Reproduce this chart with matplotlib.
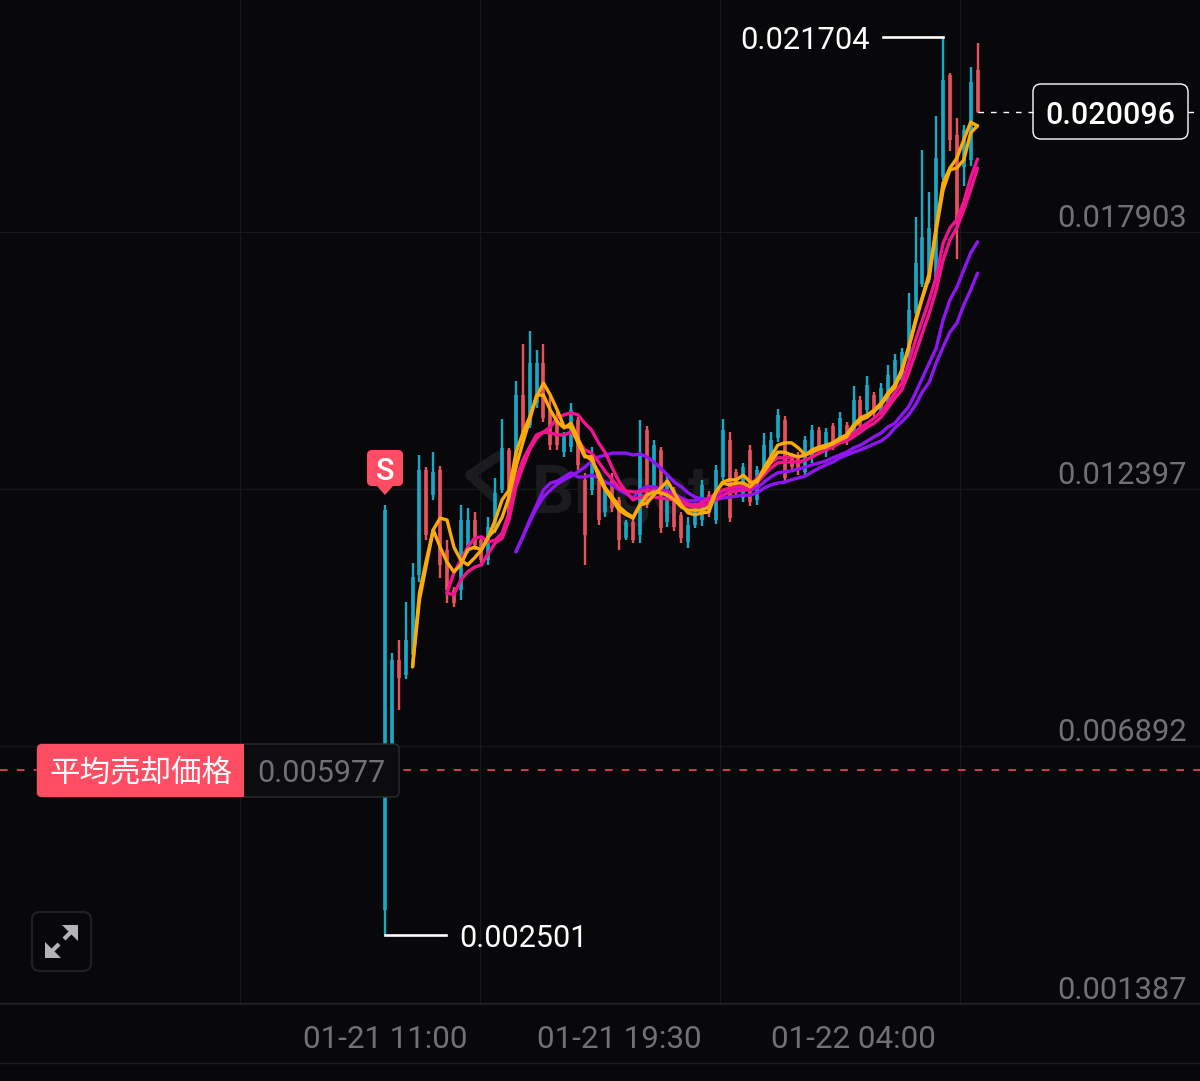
import matplotlib
matplotlib.use("Agg")
import matplotlib.pyplot as plt
import matplotlib.transforms as mtrans
from matplotlib.patches import FancyBboxPatch, Polygon, Rectangle
import numpy as np

# 15 minute candles, first one at 01-21 11:00
high = [0.01170, 0.00853, 0.00881, 0.00963, 0.01046, 0.01277, 0.01251, 0.01283, 0.01253, 0.01095,
        0.00995, 0.01170, 0.01164, 0.01155, 0.01102, 0.01144, 0.01228, 0.01354, 0.01292, 0.01435,
        0.01514, 0.01542, 0.01502, 0.01514, 0.01405, 0.01369, 0.01326, 0.01388, 0.01358, 0.01239,
        0.01294, 0.01230, 0.01209, 0.01239, 0.01187, 0.01138, 0.01142, 0.01352, 0.01339, 0.01309,
        0.01294, 0.01232, 0.01209, 0.01155, 0.01144, 0.01174, 0.01224, 0.01200, 0.01256, 0.01354,
        0.01326, 0.01247, 0.01260, 0.01298, 0.01253, 0.01324, 0.01326, 0.01375, 0.01360, 0.01281,
        0.01283, 0.01318, 0.01341, 0.01337, 0.01335, 0.01345, 0.01369, 0.01348, 0.01425, 0.01403,
        0.01446, 0.01412, 0.01431, 0.01470, 0.01493, 0.01506, 0.01624, 0.01786, 0.01929, 0.01840,
        0.02002, 0.021704, 0.02094, 0.01998, 0.01983, 0.02107, 0.02158]
low = [0.002501, 0.00593, 0.00732, 0.00798, 0.00832, 0.01005, 0.01095, 0.01181, 0.01014, 0.00960,
       0.00952, 0.00967, 0.01067, 0.01074, 0.01046, 0.01042, 0.01110, 0.01196, 0.01138, 0.01241,
       0.01316, 0.01335, 0.01378, 0.01348, 0.01288, 0.01288, 0.01273, 0.01283, 0.01245, 0.01042,
       0.01191, 0.01127, 0.01144, 0.01155, 0.01074, 0.01095, 0.01089, 0.01089, 0.01164, 0.01196,
       0.01110, 0.01123, 0.01114, 0.01089, 0.01078, 0.01121, 0.01125, 0.01144, 0.01129, 0.01224,
       0.01134, 0.01191, 0.01176, 0.01168, 0.01170, 0.01239, 0.01266, 0.01305, 0.01219, 0.01245,
       0.01234, 0.01230, 0.01260, 0.01277, 0.01273, 0.01288, 0.01303, 0.01298, 0.01316, 0.01330,
       0.01367, 0.01358, 0.01363, 0.01378, 0.01416, 0.01431, 0.01480, 0.01572, 0.01636, 0.01645,
       0.01651, 0.01865, 0.01927, 0.01696, 0.01852, 0.01895, 0.02008]
open_ = [0.00304, 0.00603, 0.00839, 0.00806, 0.00849, 0.01020, 0.01245, 0.01191, 0.01245, 0.01074,
         0.00988, 0.00988, 0.01078, 0.01138, 0.01095, 0.01052, 0.01121, 0.01202, 0.01288, 0.01249,
         0.01405, 0.01341, 0.01388, 0.01474, 0.01373, 0.01352, 0.01283, 0.01294, 0.01352, 0.01224,
         0.01202, 0.01224, 0.01155, 0.01224, 0.01181, 0.01099, 0.01134, 0.01106, 0.01330, 0.01206,
         0.01288, 0.01134, 0.01202, 0.01149, 0.01091, 0.01127, 0.01138, 0.01191, 0.01138, 0.01230,
         0.01309, 0.01241, 0.01185, 0.01288, 0.01181, 0.01245, 0.01273, 0.01313, 0.01352, 0.01277,
         0.01277, 0.01241, 0.01271, 0.01330, 0.01283, 0.01339, 0.01309, 0.01341, 0.01324, 0.01395,
         0.01373, 0.01405, 0.01369, 0.01386, 0.01422, 0.01437, 0.01487, 0.01581, 0.01643, 0.01651,
         0.01658, 0.01872, 0.02090, 0.01961, 0.01893, 0.01908, 0.02100]
close = [0.01159, 0.00839, 0.00800, 0.00881, 0.01016, 0.01245, 0.01106, 0.01241, 0.01042, 0.00988,
         0.00960, 0.01138, 0.01138, 0.01084, 0.01052, 0.01123, 0.01196, 0.01292, 0.01149, 0.01405,
         0.01326, 0.01474, 0.01474, 0.01356, 0.01298, 0.01298, 0.01320, 0.01373, 0.01256, 0.01106,
         0.01277, 0.01138, 0.01202, 0.01164, 0.01095, 0.01134, 0.01095, 0.01277, 0.01170, 0.01298,
         0.01121, 0.01224, 0.01123, 0.01099, 0.01127, 0.01159, 0.01213, 0.01155, 0.01245, 0.01330,
         0.01142, 0.01202, 0.01251, 0.01176, 0.01245, 0.01298, 0.01309, 0.01363, 0.01228, 0.01251,
         0.01245, 0.01309, 0.01330, 0.01288, 0.01326, 0.01296, 0.01356, 0.01309, 0.01395, 0.01339,
         0.01427, 0.01367, 0.01420, 0.01448, 0.01480, 0.01497, 0.01587, 0.01688, 0.01743, 0.01763,
         0.01912, 0.02079, 0.01951, 0.01773, 0.01972, 0.02075, 0.020096]

# moving averages, each starts later than the candles
orange_a = [0.00824, 0.00982, 0.01052, 0.01117, 0.01142, 0.01138, 0.01080, 0.01052, 0.01042, 0.01057,
            0.01074, 0.01102, 0.01138, 0.01181, 0.01202, 0.01281, 0.01324, 0.01358, 0.01401, 0.01431,
            0.01405, 0.01373, 0.01337, 0.01337, 0.01303, 0.01273, 0.01273, 0.01230, 0.01202, 0.01181,
            0.01159, 0.01149, 0.01142, 0.01170, 0.01174, 0.01191, 0.01206, 0.01221, 0.01196, 0.01170,
            0.01153, 0.01149, 0.01153, 0.01155, 0.01196, 0.01219, 0.01224, 0.01224, 0.01234, 0.01219,
            0.01219, 0.01249, 0.01273, 0.01298, 0.01303, 0.01303, 0.01292, 0.01277, 0.01288, 0.01294,
            0.01298, 0.01303, 0.01313, 0.01320, 0.01341, 0.01356, 0.01363, 0.01373, 0.01388, 0.01410,
            0.01427, 0.01459, 0.01508, 0.01566, 0.01615, 0.01666, 0.01765, 0.01859, 0.01891, 0.01912,
            0.01951, 0.01989, 0.01981]
orange_b = [0.00824, 0.00967, 0.01042, 0.01117, 0.01080, 0.01048, 0.01027, 0.01042, 0.01074, 0.01080,
            0.01074, 0.01102, 0.01117, 0.01144, 0.01187, 0.01251, 0.01303, 0.01352, 0.01405, 0.01405,
            0.01373, 0.01348, 0.01335, 0.01345, 0.01313, 0.01277, 0.01266, 0.01239, 0.01206, 0.01187,
            0.01166, 0.01153, 0.01144, 0.01170, 0.01191, 0.01198, 0.01196, 0.01191, 0.01181, 0.01166,
            0.01159, 0.01159, 0.01159, 0.01166, 0.01198, 0.01217, 0.01213, 0.01217, 0.01217, 0.01209,
            0.01224, 0.01241, 0.01262, 0.01283, 0.01283, 0.01277, 0.01273, 0.01277, 0.01283, 0.01290,
            0.01294, 0.01301, 0.01309, 0.01316, 0.01337, 0.01352, 0.01358, 0.01371, 0.01384, 0.01405,
            0.01422, 0.01455, 0.01506, 0.01561, 0.01613, 0.01658, 0.01758, 0.01844, 0.01887, 0.01891,
            0.01908, 0.01966, 0.01981]
pink_a = [0.00982, 0.00978, 0.01010, 0.01027, 0.01037, 0.01042, 0.01067, 0.01089, 0.01099, 0.01138,
          0.01209, 0.01251, 0.01288, 0.01313, 0.01326, 0.01324, 0.01320, 0.01320, 0.01326, 0.01309,
          0.01288, 0.01281, 0.01262, 0.01241, 0.01224, 0.01206, 0.01200, 0.01198, 0.01198, 0.01202,
          0.01202, 0.01200, 0.01196, 0.01187, 0.01181, 0.01172, 0.01170, 0.01174, 0.01185, 0.01194,
          0.01202, 0.01206, 0.01209, 0.01209, 0.01211, 0.01228, 0.01245, 0.01260, 0.01271, 0.01271,
          0.01273, 0.01273, 0.01277, 0.01283, 0.01290, 0.01294, 0.01298, 0.01307, 0.01309, 0.01324,
          0.01335, 0.01345, 0.01356, 0.01369, 0.01388, 0.01410, 0.01431, 0.01474, 0.01523, 0.01566,
          0.01609, 0.01658, 0.01730, 0.01763, 0.01780, 0.01818, 0.01870, 0.01910]
pink_b = [0.00982, 0.01025, 0.01052, 0.01080, 0.01099, 0.01102, 0.01091, 0.01095, 0.01110, 0.01153,
          0.01224, 0.01266, 0.01294, 0.01320, 0.01326, 0.01337, 0.01356, 0.01363, 0.01367, 0.01363,
          0.01345, 0.01330, 0.01303, 0.01281, 0.01249, 0.01219, 0.01198, 0.01181, 0.01187, 0.01191,
          0.01187, 0.01185, 0.01183, 0.01181, 0.01174, 0.01168, 0.01166, 0.01168, 0.01174, 0.01181,
          0.01191, 0.01198, 0.01200, 0.01202, 0.01204, 0.01217, 0.01234, 0.01249, 0.01260, 0.01262,
          0.01262, 0.01262, 0.01266, 0.01273, 0.01281, 0.01288, 0.01294, 0.01303, 0.01307, 0.01316,
          0.01326, 0.01337, 0.01345, 0.01358, 0.01378, 0.01399, 0.01416, 0.01452, 0.01495, 0.01538,
          0.01581, 0.01630, 0.01694, 0.01737, 0.01763, 0.01801, 0.01844, 0.01891]
purple_a = [0.01070, 0.01102, 0.01138, 0.01170, 0.01202, 0.01217, 0.01221, 0.01230, 0.01239, 0.01230,
            0.01230, 0.01234, 0.01228, 0.01219, 0.01213, 0.01202, 0.01194, 0.01185, 0.01202, 0.01209,
            0.01209, 0.01204, 0.01200, 0.01194, 0.01185, 0.01179, 0.01179, 0.01183, 0.01183, 0.01187,
            0.01200, 0.01204, 0.01204, 0.01202, 0.01202, 0.01206, 0.01219, 0.01230, 0.01239, 0.01241,
            0.01243, 0.01247, 0.01251, 0.01256, 0.01260, 0.01264, 0.01271, 0.01277, 0.01283, 0.01292,
            0.01298, 0.01307, 0.01316, 0.01324, 0.01337, 0.01345, 0.01363, 0.01380, 0.01410, 0.01442,
            0.01474, 0.01506, 0.01566, 0.01609, 0.01636, 0.01673, 0.01709, 0.01733]
purple_b = [0.01070, 0.01102, 0.01134, 0.01164, 0.01187, 0.01202, 0.01215, 0.01224, 0.01232, 0.01241,
            0.01251, 0.01264, 0.01273, 0.01277, 0.01281, 0.01281, 0.01281, 0.01277, 0.01279, 0.01273,
            0.01262, 0.01249, 0.01234, 0.01219, 0.01209, 0.01196, 0.01187, 0.01183, 0.01181, 0.01181,
            0.01185, 0.01187, 0.01189, 0.01191, 0.01191, 0.01196, 0.01206, 0.01213, 0.01217, 0.01219,
            0.01224, 0.01228, 0.01232, 0.01241, 0.01249, 0.01256, 0.01262, 0.01271, 0.01277, 0.01283,
            0.01288, 0.01294, 0.01301, 0.01307, 0.01318, 0.01335, 0.01348, 0.01363, 0.01384, 0.01412,
            0.01433, 0.01474, 0.01508, 0.01540, 0.01559, 0.01598, 0.01630, 0.01666]

price_ticks = [0.017903, 0.012397, 0.006892, 0.001387]
date_labels = ["01-21 11:00", "01-21 19:30", "01-22 04:00"]
date_candles = [0, 34, 68]
avg_sell = 0.005977
last_price = 0.020096

BG = "#08080a"
UP = "#17a9c6"
DOWN = "#e8525f"
RED = "#ff4d63"
GRID = "#17181b"
GREY = "#6f7176"

plt.rcParams["font.family"] = ["Roboto", "Noto Sans CJK JP", "DejaVu Sans"]

fig = plt.figure(figsize=(12, 10.81), dpi=100, facecolor=BG)
ax = fig.add_axes([0, 0, 1, 1], facecolor=BG)
ax.set_xlim(-385 / 6.89, (1200 - 385) / 6.89)
ax.set_ylim(0.022502 - 1081 * 2.139e-5, 0.022502)
ax.axis("off")

# overlay in screen pixels for the app chrome
ov = fig.add_axes([0, 0, 1, 1], facecolor="none")
ov.set_xlim(0, 1200)
ov.set_ylim(1081, 0)
ov.axis("off")
px_price = mtrans.blended_transform_factory(ov.transData, ax.transData)
candle_px = mtrans.blended_transform_factory(ax.transData, ov.transData)
tag_shift = px_price + mtrans.Affine2D().translate(0, 2.5)

# grid sits a bit below the price it is labelled with
grid_shift = 0.000353
for p in price_ticks:
    ax.axhline(p - grid_shift, color=GRID, lw=0.9, zorder=1)
for x in [240, 480, 720, 960]:
    ax.plot([x, x], [0, 1003], color=GRID, lw=0.9, zorder=1,
            transform=ov.transData)
ax.plot([0, 1200], [1003, 1003], color="#222327", lw=1, transform=ov.transData, zorder=1)
ax.plot([0, 1200], [1063, 1063], color="#1c1d20", lw=1, transform=ov.transData, zorder=1)

# watermark
ax.text(532, 495, "Bitget", color="#1b1b1e", fontsize=48, fontweight="bold",
        va="center", ha="left", transform=ov.transData, zorder=1.5)
ax.plot([497, 470, 497], [457, 475, 500], color="#1b1b1e", lw=7, transform=ov.transData, zorder=1.5)

# candles
idx = np.arange(len(high))
colors = [UP if c >= o else DOWN for o, c in zip(open_, close)]
ax.vlines(idx, low, high, colors=colors, lw=1.7, zorder=2)
ax.vlines(idx, open_, close, colors=colors, lw=2.6, zorder=2)


def ma(values, color):
    x = np.arange(len(high) - len(values), len(high))
    ax.plot(x, values, color=color, lw=2.4, solid_joinstyle="round",
            solid_capstyle="round", zorder=3)


ma(purple_a, "#8f15f2")
ma(purple_b, "#8f15f2")
ma(pink_a, "#f0148e")
ma(pink_b, "#f0148e")
ma(orange_a, "#fbaa0c")
ma(orange_b, "#fbaa0c")

# high / low markers
i_hi = int(np.argmax(high))
i_lo = int(np.argmin(low))
ov.plot([883, 943], [high[i_hi]] * 2, color="white", lw=1.9, transform=px_price)
ov.text(870, high[i_hi], f"{high[i_hi]:.6f}", color="white", fontsize=22.2, ha="right",
        va="center_baseline", transform=px_price)
ov.plot([385, 446], [low[i_lo]] * 2, color="white", lw=1.9, transform=px_price)
ov.text(459, low[i_lo], f"{low[i_lo]:.6f}", color="white", fontsize=22, ha="left",
        va="center_baseline", transform=px_price)

# price axis
for p in price_ticks:
    ov.text(1187, p, f"{p:.6f}", color=GREY, fontsize=22.2, ha="right", va="center_baseline",
            transform=px_price)
for c, lab in zip(date_candles, date_labels):
    ov.text(c, 1036, lab, color=GREY, fontsize=22.6, ha="center", va="center_baseline",
            transform=candle_px)

# last price tag
ov.plot([978, 1033], [last_price] * 2, color="white", lw=1, ls=(0, (4, 5)), transform=px_price)
ov.plot([1188, 1200], [last_price] * 2, color="white", lw=1, ls=(0, (4, 5)), transform=px_price)
ov.add_patch(FancyBboxPatch((1038, 89), 145, 45, boxstyle="round,pad=5,rounding_size=8",
                            fc=BG, ec="white", lw=1))
ov.text(1110.5, last_price, f"{last_price:.6f}", color="white", fontsize=22, fontweight="medium",
        ha="center", va="center_baseline", transform=px_price)

# average sell price tag
ov.plot([0, 1200], [avg_sell] * 2, color=RED, lw=1.1, ls=(0, (5, 6)), transform=tag_shift, zorder=1)
ov.add_patch(FancyBboxPatch((40, 747), 356, 47, boxstyle="round,pad=3,rounding_size=5",
                            fc="#0c0c0e", ec="#2b2c30", lw=1, zorder=2))
ov.add_patch(FancyBboxPatch((40, 747), 201, 47, boxstyle="round,pad=3,rounding_size=5",
                            fc=RED, ec="none", zorder=3))
ov.add_patch(Rectangle((230, 744), 14, 53, fc=RED, ec="none", zorder=3))
ov.text(141, avg_sell, "平均売却価格", color="white", fontsize=22, ha="center", va="center_baseline",
        transform=tag_shift, zorder=4)
ov.text(321, avg_sell, f"{avg_sell:.6f}", color=GREY, fontsize=22, ha="center", va="center_baseline",
        transform=tag_shift, zorder=4)

# sell marker
ov.add_patch(FancyBboxPatch((370, 453), 30, 30, boxstyle="round,pad=3,rounding_size=5",
                            fc=RED, ec="none", zorder=3))
ov.add_patch(Polygon([(377, 486), (393, 486), (385, 495)], fc=RED, ec="none", zorder=3))
ov.text(385, 468, "S", color="white", fontsize=22, fontweight="medium", ha="center",
        va="center_baseline", zorder=4)

# expand button
ov.add_patch(FancyBboxPatch((37, 917), 49, 49, boxstyle="round,pad=5,rounding_size=8",
                            fc=BG, ec="#1f2023", lw=1.6))
ov.add_patch(Polygon([(78, 925), (78, 941), (62, 925)], fc="#b2b4b8", ec="none"))
ov.plot([71, 64], [932, 939], color="#b2b4b8", lw=3, solid_capstyle="butt")
ov.add_patch(Polygon([(45, 958), (45, 942), (61, 958)], fc="#b2b4b8", ec="none"))
ov.plot([52, 59], [951, 944], color="#b2b4b8", lw=3, solid_capstyle="butt")

fig.savefig("out.png", dpi=100, facecolor=BG)
